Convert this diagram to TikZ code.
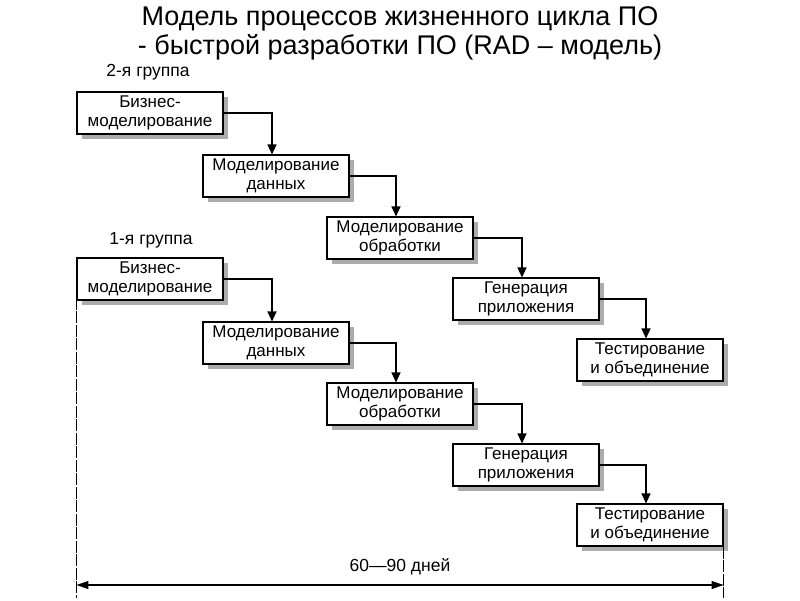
\documentclass[tikz,border=0pt]{standalone}
\usepackage{fontspec}
\setmainfont{Liberation Sans}
\usetikzlibrary{shadows,arrows.meta}
\begin{document}
\begin{tikzpicture}[x=1pt,y=-1pt,
  stagebox/.style={draw=black, line width=1.1pt, fill=white, minimum width=146pt, minimum height=42pt,
    inner sep=1pt, align=center, font=\fontsize{17}{18.5}\selectfont,
    drop shadow={shadow xshift=5pt, shadow yshift=-5pt, fill=gray!65, opacity=1}},
  link/.style={draw=black, line width=1.1pt, -{Triangle[length=10pt,width=9pt]}},
  grp/.style={font=\fontsize{17.5}{19}\selectfont},
  dimline/.style={draw=black, line width=1pt, dashed, dash pattern=on 12pt off 1.5pt}]
\useasboundingbox (0,0) rectangle (800,600);
\node[font=\fontsize{27}{29}\selectfont, align=center] (title) at (400,33)
  {Модель процессов жизненного цикла ПО\\- быстрой разработки ПО (RAD – модель)};
\node[grp] (g2) at (148,72) {2-я группа};
\node[grp] (g1) at (151,240) {1-я группа};
% group 2
\node[stagebox] (b1) at (150,113) {Бизнес-\\моделирование};
\node[stagebox] (b2) at (276,176) {Моделирование\\данных};
\node[stagebox] (b3) at (400,238) {Моделирование\\обработки};
\node[stagebox] (b4) at (526,299) {Генерация\\приложения};
\node[stagebox] (b5) at (650,360) {Тестирование\\и объединение};
% group 1
\node[stagebox] (c1) at (150,279) {Бизнес-\\моделирование};
\node[stagebox] (c2) at (276,343) {Моделирование\\данных};
\node[stagebox] (c3) at (400,404) {Моделирование\\обработки};
\node[stagebox] (c4) at (526,465) {Генерация\\приложения};
\node[stagebox] (c5) at (650,525) {Тестирование\\и объединение};
\foreach \a/\b in {b1/b2,b2/b3,b3/b4,b4/b5,c1/c2,c2/c3,c3/c4,c4/c5}{
  \draw[link] (\a.east) -| ([xshift=-4pt]\b.north);
}
\coordinate (lb) at (c1.north west |- 0,598);
\coordinate (rb) at (c5.south east |- 0,598);
\draw[dimline] (c1.north west) -- (lb);
\draw[dimline] (c5.south east) -- (rb);
\coordinate (la) at (c1.west |- 0,585);
\coordinate (ra) at (c5.east |- 0,585);
\draw[line width=1.1pt, {Triangle[length=12pt,width=8pt]}-{Triangle[length=12pt,width=8pt]}] (la) -- (ra);
\node[grp] (days) at (400,567) {60—90 дней};
\end{tikzpicture}
\end{document}
